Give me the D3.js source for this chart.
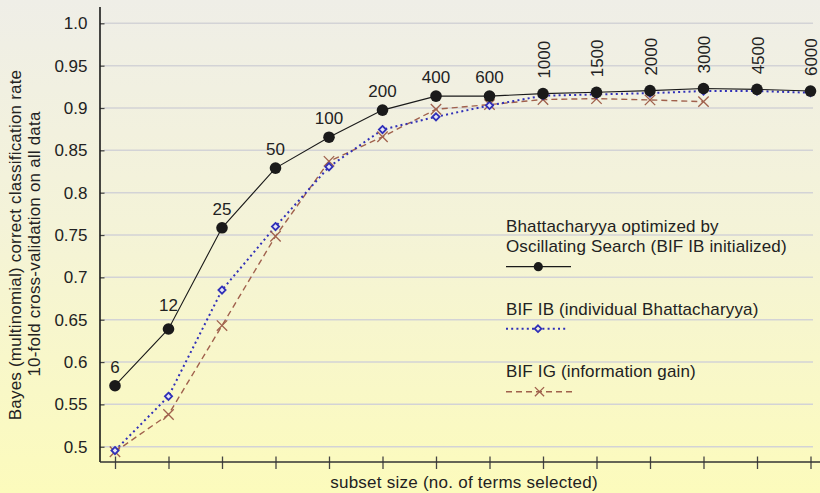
<!DOCTYPE html>
<html><head><meta charset="utf-8">
<script src="https://cdn.jsdelivr.net/npm/d3@7"></script>
<style>
html,body{margin:0;padding:0;background:#fff;}
svg{display:block;font-family:Arial,"Liberation Sans",Helvetica,sans-serif;}
</style></head>
<body><svg id="chart" width="820" height="493"></svg>
<script>
const subsetSizes = ["6","12","25","50","100","200","400","600","1000","1500","2000","3000","4500","6000"];
const osValues  = [0.572,0.639,0.7585,0.829,0.8655,0.8975,0.914,0.914,0.917,0.9185,0.9205,0.923,0.922,0.920];
const ibValues  = [0.4955,0.5595,0.685,0.760,0.8305,0.8745,0.8895,0.903,0.9145,0.916,0.9175,0.920,0.920,0.918];
const igValues  = [0.494,0.538,0.643,0.7485,0.837,0.866,0.8985,0.904,0.910,0.911,0.9095,0.9075];
const yTicks = [0.5,0.55,0.6,0.65,0.7,0.75,0.8,0.85,0.9,0.95,1.0];
const yTickLabels = ["0.5","0.55","0.6","0.65","0.7","0.75","0.8","0.85","0.9","0.95","1.0"];
const rotatedFrom = 8; // labels from "1000" on are vertical
const legendNames = ["Bhattacharyya optimized by|Oscillating Search (BIF IB initialized)","BIF IB (individual Bhattacharyya)","BIF IG (information gain)"];
const yTitle = ["Bayes (multinomial) correct classification rate","10-fold cross-validation on all data"];
const xTitle = "subset size (no. of terms selected)";

const svg = d3.select("#chart");
const W = 820, H = 493;

// background gradient
const defs = svg.append("defs");
const grad = defs.append("linearGradient").attr("id","bg").attr("x1",0).attr("y1",0).attr("x2",0).attr("y2",1);
grad.append("stop").attr("offset","0%").attr("stop-color","#efeee7");
grad.append("stop").attr("offset","45%").attr("stop-color","#f4f3d8");
grad.append("stop").attr("offset","100%").attr("stop-color","#fcfbbc");
svg.append("rect").attr("width",W).attr("height",H).attr("fill","url(#bg)");

const x = d3.scalePoint().domain(subsetSizes).range([115, 810.5]);
const y = d3.scaleLinear().domain([0.5, 1.0]).range([446.7, 23.3]);
const axisX = 100, axisY = 462;

// gridlines
svg.append("g").selectAll("line").data(yTicks).join("line")
  .attr("x1",104).attr("x2",813).attr("y1",d=>y(d)).attr("y2",d=>y(d))
  .attr("stroke","#d3d3d6").attr("stroke-width",1.5);

// y axis
const yAxis = svg.append("g").attr("transform",`translate(${axisX},0)`)
  .call(d3.axisLeft(y).tickValues(yTicks).tickFormat((d,i)=>yTickLabels[i]).tickSize(8).tickPadding(4.5));
yAxis.select(".domain").remove();
yAxis.selectAll(".tick line").attr("x2",4.5).attr("stroke","#444").attr("stroke-width",1.3);
yAxis.selectAll(".tick text").attr("font-size",17).attr("fill","#222").attr("font-family","Arial, Liberation Sans, sans-serif");
svg.append("line").attr("x1",axisX).attr("x2",axisX).attr("y1",7).attr("y2",axisY)
  .attr("stroke","#1a1a1a").attr("stroke-width",1.6);

// x axis
const xAxis = svg.append("g").attr("transform",`translate(0,${axisY})`)
  .call(d3.axisBottom(x).tickSize(7).tickFormat(""));
xAxis.select(".domain").remove();
xAxis.selectAll(".tick line").attr("y1",-5.5).attr("stroke","#444").attr("stroke-width",1.3);
svg.append("line").attr("x1",axisX).attr("x2",W).attr("y1",axisY).attr("y2",axisY)
  .attr("stroke","#333").attr("stroke-width",1.3);

// series
const line = d3.line().x((d,i)=>x(subsetSizes[i])).y(d=>y(d));
svg.append("path").datum(igValues).attr("d",line).attr("fill","none")
  .attr("stroke","#a0614d").attr("stroke-width",1.4).attr("stroke-dasharray","6,4");
svg.append("path").datum(ibValues).attr("d",line).attr("fill","none")
  .attr("stroke","#3030b8").attr("stroke-width",2).attr("stroke-dasharray","2,3.2");
svg.append("path").datum(osValues).attr("d",line).attr("fill","none")
  .attr("stroke","#1a1a1a").attr("stroke-width",1.1);

const crossPath = s => `M${-s},${-s}L${s},${s}M${-s},${s}L${s},${-s}`;
const diamondPath = s => `M0,${-s}L${s},0L0,${s}L${-s},0Z`;

svg.append("g").selectAll("path").data(igValues).join("path")
  .attr("transform",(d,i)=>`translate(${x(subsetSizes[i])},${y(d)})`)
  .attr("d",crossPath(5.2)).attr("stroke","#a0614d").attr("stroke-width",1.3).attr("fill","none");
svg.append("g").selectAll("path").data(ibValues).join("path")
  .attr("transform",(d,i)=>`translate(${x(subsetSizes[i])},${y(d)})`)
  .attr("d",diamondPath(3.6)).attr("stroke","#3030b8").attr("stroke-width",1.8).attr("fill","#e6e6f4");
svg.append("g").selectAll("circle").data(osValues).join("circle")
  .attr("cx",(d,i)=>x(subsetSizes[i])).attr("cy",d=>y(d)).attr("r",5.8).attr("fill","#1a1a1a");

// point labels
const lab = svg.append("g").attr("font-size",17).attr("fill","#222");
osValues.forEach((v,i)=>{
  const px = x(subsetSizes[i]), py = y(v);
  if (i < rotatedFrom) {
    lab.append("text").attr("x",px).attr("y",py - (i===1 ? 18 : 13)).attr("text-anchor","middle").text(subsetSizes[i]);
  } else {
    lab.append("text").attr("transform",`translate(${px+6.5},${py-15}) rotate(-90)`).attr("text-anchor","start").text(subsetSizes[i]);
  }
});

// axis titles
const yt = svg.append("g").attr("font-size",17).attr("letter-spacing",0.2).attr("fill","#222").attr("text-anchor","middle");
yt.append("text").attr("transform","translate(20.5,245) rotate(-90)").text(yTitle[0]);
yt.append("text").attr("transform","translate(40,244) rotate(-90)").text(yTitle[1]);
svg.append("text").attr("x",464).attr("y",487.5).attr("text-anchor","middle").attr("font-size",17).attr("letter-spacing",0.25).attr("fill","#222").text(xTitle);

// legend
const lg = svg.append("g").attr("font-size",17).attr("letter-spacing",0.15).attr("fill","#222");
const l0 = legendNames[0].split("|");
lg.append("text").attr("x",506).attr("y",231.5).text(l0[0]);
lg.append("text").attr("x",506).attr("y",251.5).text(l0[1]);
lg.append("line").attr("x1",506).attr("x2",571).attr("y1",266.7).attr("y2",266.7).attr("stroke","#1a1a1a").attr("stroke-width",1.3);
lg.append("circle").attr("cx",538.3).attr("cy",266.7).attr("r",4.6).attr("fill","#1a1a1a");

lg.append("text").attr("x",506).attr("y",315).text(legendNames[1]);
lg.append("line").attr("x1",506).attr("x2",568).attr("y1",328.7).attr("y2",328.7).attr("stroke","#3030b8").attr("stroke-width",2).attr("stroke-dasharray","2,3.2");
lg.append("path").attr("transform","translate(538,328.7)").attr("d",diamondPath(3.4)).attr("stroke","#3030b8").attr("stroke-width",1.8).attr("fill","#eeeedc");

lg.append("text").attr("x",506).attr("y",377.3).text(legendNames[2]);
lg.append("line").attr("x1",506).attr("x2",572).attr("y1",391.7).attr("y2",391.7).attr("stroke","#a0614d").attr("stroke-width",1.4).attr("stroke-dasharray","6,4");
lg.append("path").attr("transform","translate(539.5,391.7)").attr("d",crossPath(4.6)).attr("stroke","#a0614d").attr("stroke-width",1.3).attr("fill","none");
</script></body></html>
